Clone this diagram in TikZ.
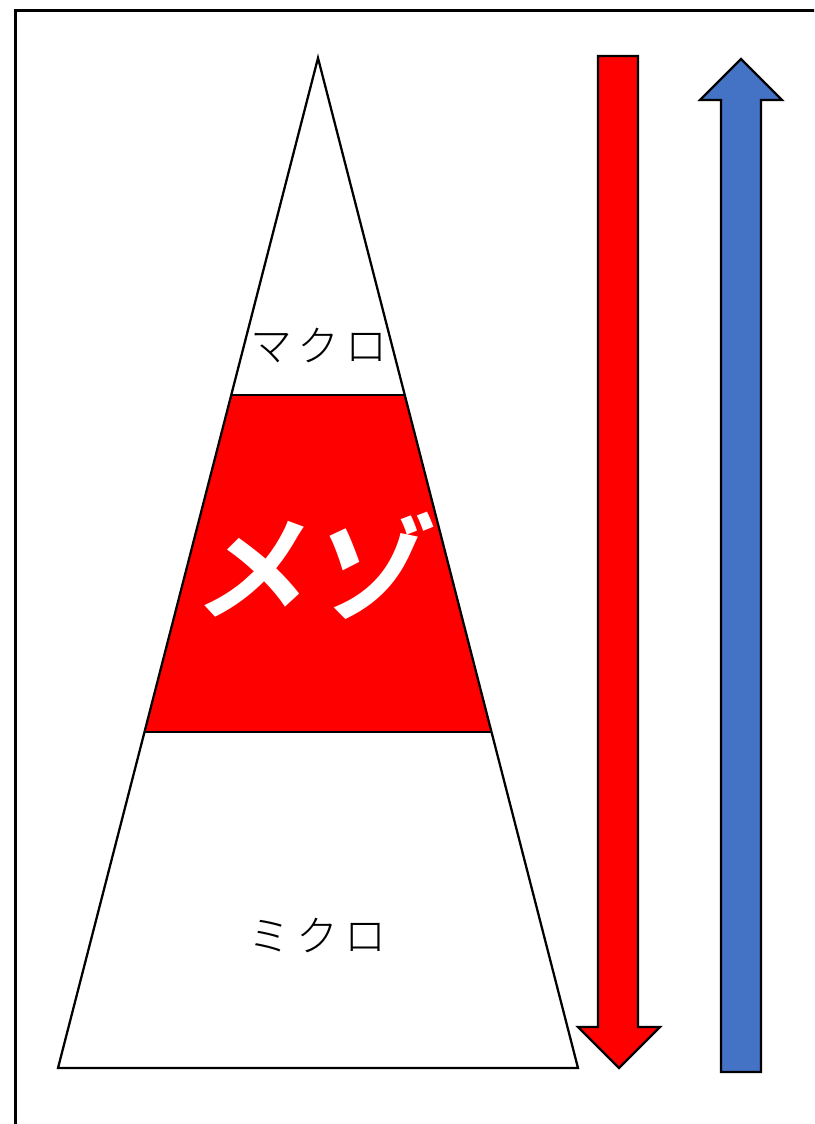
\documentclass[tikz,border=0pt]{standalone}
\usepackage{fontspec}
\newfontfamily\jpfont[UprightFont=* Light, LetterSpace=14]{Noto Sans CJK JP}
\newfontfamily\jpbold[FakeSlant=0.18]{Noto Sans CJK JP Bold}
\usepackage{tikz}
\usetikzlibrary{positioning, calc}
\usepackage{xcolor}
\definecolor{mesored}{RGB}{255,0,0}
\definecolor{upblue}{RGB}{68,114,196}

\begin{document}
\begin{tikzpicture}[x=0.75pt, y=-0.75pt, line join=miter]
  \useasboundingbox (0,0) rectangle (814,1124);
  \clip (0,0) rectangle (814,1124);
  % outer frame
  \draw[line width=2.2pt] (15.5,10.5) rectangle (840,1150);

  % pyramid
  \coordinate (apex) at (318,58);
  \coordinate (bl) at (58,1068);
  \coordinate (br) at (578,1068);
  \coordinate (ul) at (231.2,395);
  \coordinate (ur) at (404.8,395);
  \coordinate (ll) at (144.5,732);
  \coordinate (lr) at (491.5,732);
  \fill[mesored] (ul) -- (ur) -- (lr) -- (ll) -- cycle;
  \draw[line width=1.7pt] (apex) -- (bl) -- (br) -- cycle;
  \draw[line width=1.7pt] (ul) -- (ur);
  \draw[line width=1.7pt] (ll) -- (lr);

  \node (macro) at (319,345) {\jpfont\fontsize{31.5}{31.5}\selectfont マクロ};
  \node[white] (meso) at (307,566) {\jpbold\fontsize{86}{86}\selectfont メゾ};
  \node (micro) at (317.5,935) {\jpfont\fontsize{31.5}{31.5}\selectfont ミクロ};

  % downward arrow
  \draw[line width=1.7pt, fill=mesored] (598,56) -- (638,56) -- (638,1027) -- (660,1027)
    -- (619,1068) -- (578,1027) -- (598,1027) -- cycle;
  % upward arrow
  \draw[line width=1.7pt, fill=upblue] (721,1072) -- (761,1072) -- (761,100) -- (782,100)
    -- (741,59) -- (700,100) -- (721,100) -- cycle;
\end{tikzpicture}
\end{document}
